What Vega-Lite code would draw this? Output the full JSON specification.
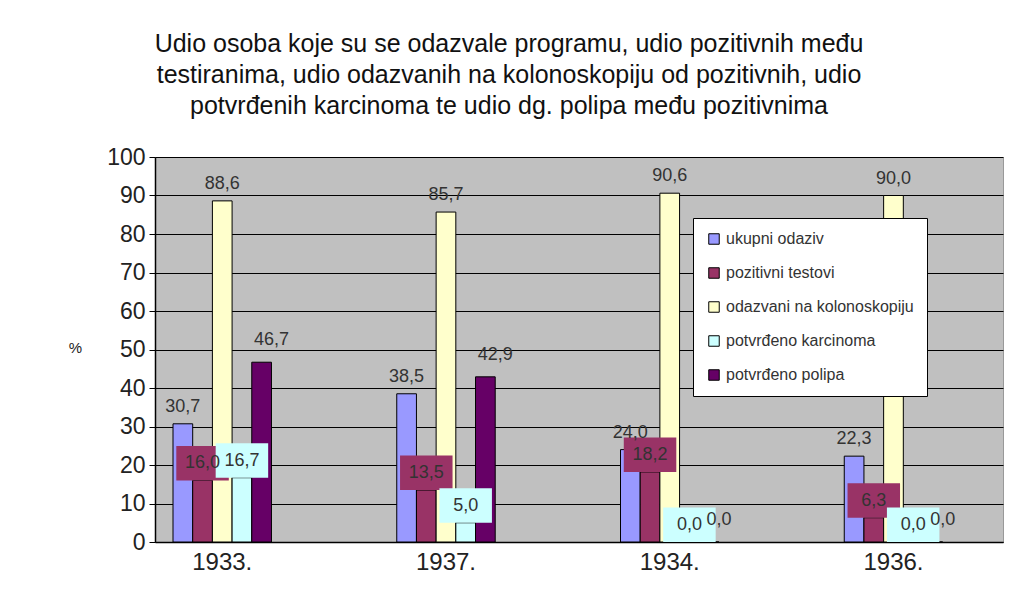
{
  "$schema": "https://vega.github.io/schema/vega-lite/v6.json",
  "autosize": "none",
  "width": 848,
  "height": 385,
  "padding": {"left": 155, "top": 157, "right": 21, "bottom": 70},
  "background": "white",
  "title": {
    "text": ["Udio osoba koje su se odazvale programu, udio pozitivnih među", "testiranima, udio odazvanih na kolonoskopiju od pozitivnih, udio", "potvrđenih karcinoma te udio dg. polipa među pozitivnima"],
    "font": "Liberation Sans",
    "fontSize": 25,
    "fontWeight": "normal",
    "color": "#111",
    "lineHeight": 31,
    "anchor": "middle",
    "dx": -70,
    "offset": 27
  },
  "data": {
    "values": [
      {"year": "1933.", "series": "ukupni odaziv", "value": 30.7},
      {"year": "1933.", "series": "pozitivni testovi", "value": 16.0},
      {"year": "1933.", "series": "odazvani na kolonoskopiju", "value": 88.6},
      {"year": "1933.", "series": "potvrđeno karcinoma", "value": 16.7},
      {"year": "1933.", "series": "potvrđeno polipa", "value": 46.7},
      {"year": "1937.", "series": "ukupni odaziv", "value": 38.5},
      {"year": "1937.", "series": "pozitivni testovi", "value": 13.5},
      {"year": "1937.", "series": "odazvani na kolonoskopiju", "value": 85.7},
      {"year": "1937.", "series": "potvrđeno karcinoma", "value": 5.0},
      {"year": "1937.", "series": "potvrđeno polipa", "value": 42.9},
      {"year": "1934.", "series": "ukupni odaziv", "value": 24.0},
      {"year": "1934.", "series": "pozitivni testovi", "value": 18.2},
      {"year": "1934.", "series": "odazvani na kolonoskopiju", "value": 90.6},
      {"year": "1934.", "series": "potvrđeno karcinoma", "value": 0.0},
      {"year": "1934.", "series": "potvrđeno polipa", "value": 0.0},
      {"year": "1936.", "series": "ukupni odaziv", "value": 22.3},
      {"year": "1936.", "series": "pozitivni testovi", "value": 6.3},
      {"year": "1936.", "series": "odazvani na kolonoskopiju", "value": 90.0},
      {"year": "1936.", "series": "potvrđeno karcinoma", "value": 0.0},
      {"year": "1936.", "series": "potvrđeno polipa", "value": 0.0}
    ]
  },
  "encoding": {
    "x": {
      "field": "year", "type": "nominal", "sort": null,
      "scale": {"paddingInner": 0.56, "paddingOuter": 0.175, "align": 0.23},
      "axis": {"title": null, "labelAngle": 0, "labelFontSize": 24, "labelFont": "Liberation Sans", "labelColor": "#222", "labelPadding": 8, "ticks": false, "domainColor": "black", "domainWidth": 1.5}
    },
    "xOffset": {
      "field": "series", "type": "nominal",
      "sort": ["ukupni odaziv", "pozitivni testovi", "odazvani na kolonoskopiju", "potvrđeno karcinoma", "potvrđeno polipa"],
      "scale": {"paddingInner": 0, "paddingOuter": 0}
    },
    "y": {
      "field": "value", "type": "quantitative",
      "scale": {"domain": [0, 100]},
      "axis": {"title": "%", "titleAngle": 0, "titleX": -80, "titleY": 198, "titleFontSize": 15, "titleFontWeight": "normal", "titleFont": "Liberation Sans", "titleColor": "#222", "values": [0, 10, 20, 30, 40, 50, 60, 70, 80, 90, 100], "labelFontSize": 23, "labelFont": "Liberation Sans", "labelColor": "#222", "labelPadding": 4, "tickSize": 6, "tickColor": "black", "domainColor": "black", "domainWidth": 1.5, "grid": true, "gridColor": "black", "gridOpacity": 1, "gridWidth": 1}
    }
  },
  "layer": [
    {
      "mark": {"type": "bar", "stroke": "black", "strokeWidth": 1},
      "encoding": {
        "color": {
          "field": "series", "type": "nominal",
          "scale": {
            "domain": ["ukupni odaziv", "pozitivni testovi", "odazvani na kolonoskopiju", "potvrđeno karcinoma", "potvrđeno polipa"],
            "range": ["#9999FF", "#993366", "#FFFFCC", "#CCFFFF", "#660066"]
          },
          "legend": {
            "title": null, "orient": "none", "legendX": 538, "legendY": 61,
            "fillColor": "white", "strokeColor": "black", "padding": 13,
            "labelFontSize": 16, "labelFont": "Liberation Sans", "labelColor": "#333", "labelLimit": 0,
            "symbolType": "square", "symbolSize": 110, "symbolStrokeColor": "black", "symbolStrokeWidth": 1, "symbolOpacity": 1,
            "rowPadding": 18, "labelOffset": 4
          }
        }
      }
    },
    {
      "transform": [{"filter": "datum.series === 'pozitivni testovi' || datum.series === 'potvrđeno karcinoma'"}],
      "mark": {"type": "point", "filled": true, "opacity": 1, "strokeWidth": 0, "shape": "M-1.75,-2.3L1.75,-2.3L1.75,0L-1.75,0Z", "size": 900},
      "encoding": {
        "fill": {"condition": {"test": "datum.series === 'pozitivni testovi'", "value": "#993366"}, "value": "#CCFFFF"}
      }
    },
    {
      "transform": [{"filter": "datum.series !== 'potvrđeno polipa'"}],
      "mark": {"type": "text", "baseline": "middle", "dy": -17, "font": "Liberation Sans", "fontSize": 18, "color": "#333"},
      "encoding": {
        "text": {"field": "value", "type": "quantitative", "format": ".1f"}
      }
    },
    {
      "transform": [{"filter": "datum.series === 'potvrđeno polipa'"}],
      "mark": {"type": "text", "baseline": "middle", "dy": -22, "dx": 10, "font": "Liberation Sans", "fontSize": 18, "color": "#333"},
      "encoding": {
        "text": {"field": "value", "type": "quantitative", "format": ".1f"}
      }
    }
  ],
  "config": {
    "locale": {"number": {"decimal": ",", "thousands": ".", "grouping": [3], "currency": ["", " €"]}},
    "view": {"fill": "#C0C0C0", "stroke": "#999999"}
  }
}
